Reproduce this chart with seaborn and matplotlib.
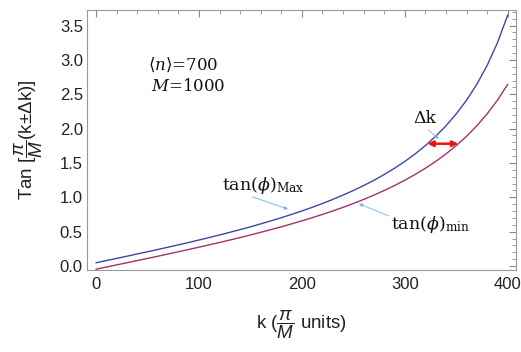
import numpy as np
import pandas as pd
import matplotlib
matplotlib.use("Agg")
import matplotlib.pyplot as plt
import seaborn as sns
from matplotlib.ticker import MultipleLocator

# ---- data ----
k_values = list(range(0, 401, 10))
tan_max = [0.047, 0.079, 0.110, 0.142, 0.175, 0.207, 0.240, 0.274, 0.308, 0.342,
           0.378, 0.414, 0.452, 0.490, 0.530, 0.570, 0.613, 0.657, 0.703, 0.751,
           0.801, 0.854, 0.910, 0.969, 1.032, 1.099, 1.171, 1.248, 1.332, 1.423,
           1.522, 1.632, 1.753, 1.889, 2.041, 2.215, 2.414, 2.646, 2.921, 3.251,
           3.655]
tan_min = [-0.047, -0.016, 0.016, 0.047, 0.079, 0.110, 0.142, 0.175, 0.207, 0.240,
           0.274, 0.308, 0.342, 0.378, 0.414, 0.452, 0.490, 0.530, 0.570, 0.613,
           0.657, 0.703, 0.751, 0.801, 0.854, 0.910, 0.969, 1.032, 1.099, 1.171,
           1.248, 1.332, 1.423, 1.522, 1.632, 1.753, 1.889, 2.041, 2.215, 2.414,
           2.646]
series_names = ["max", "min"]
x_ticks = [0, 100, 200, 300, 400]
y_ticks = [0.0, 0.5, 1.0, 1.5, 2.0, 2.5, 3.0, 3.5]
dk_arrow_k = [322, 352]
dk_arrow_y = 1.78

df = pd.DataFrame({
    "k": k_values * 2,
    "val": tan_max + tan_min,
    "series": [series_names[0]] * len(k_values) + [series_names[1]] * len(k_values),
})

sns.set_theme(style="white")
plt.rcParams["font.family"] = ["Liberation Sans", "DejaVu Sans"]
plt.rcParams["mathtext.fontset"] = "custom"
plt.rcParams["mathtext.rm"] = "Liberation Sans"
plt.rcParams["mathtext.it"] = "Liberation Sans:italic"

fig = plt.figure(figsize=(5.21, 3.52), dpi=100)
ax = fig.add_axes([0.167, 0.233, 0.823, 0.740])

sns.lineplot(data=df, x="k", y="val", hue="series",
             palette={"max": "#4444a4", "min": "#a0336a"},
             linewidth=1.0, legend=False, ax=ax)

ax.set_xlim(-8.7, 407.8)
ax.set_ylim(-0.058, 3.734)
ax.set_xticks(x_ticks)
ax.set_yticks(y_ticks)
ax.set_xticklabels([str(v) for v in x_ticks])
ax.set_yticklabels([f"{v:.1f}" for v in y_ticks])
ax.xaxis.set_minor_locator(MultipleLocator(20))
ax.yaxis.set_minor_locator(MultipleLocator(0.1))
ax.tick_params(which="both", direction="in", top=True, right=True,
               color="#888888", labelsize=12, labelcolor="#222222")
ax.tick_params(axis="x", pad=5)
ax.tick_params(axis="y", pad=3)
ax.tick_params(which="major", length=5, width=0.8)
ax.tick_params(which="minor", length=3, width=0.6)
for s in ax.spines.values():
    s.set_color("#999999")
    s.set_linewidth(0.8)

ax.set_xlabel(r"k ($\dfrac{\pi}{M}$ units)", fontsize=13.5, color="#222222")
ax.set_ylabel(r"Tan [$\dfrac{\pi}{M}$(k±Δk)]", fontsize=13.5, color="#222222")
ax.xaxis.set_label_coords(0.5, -0.145)
ax.yaxis.set_label_coords(-0.097, 0.5)

serif = ["DejaVu Serif"]
ax.text(50.5, 2.93, r"$\langle n\rangle$=700", family=serif, fontsize=12,
        math_fontfamily="dejavuserif", va="center", ha="left", color="#111111")
ax.text(53, 2.61, r"$M$=1000", family=serif, fontsize=12,
        math_fontfamily="dejavuserif", va="center", ha="left", color="#111111")

ax.text(122, 1.165, r"tan($\phi$)$_{\rm Max}$", family=serif, fontsize=12.5,
        math_fontfamily="dejavuserif", va="center", ha="left", color="#111111")
ax.text(287, 0.60, r"tan($\phi$)$_{\rm min}$", family=serif, fontsize=12.5,
        math_fontfamily="dejavuserif", va="center", ha="left", color="#111111")
ax.text(308, 2.15, r"Δk", family=serif, fontsize=12.5,
        va="center", ha="left", color="#111111")

arrow_kw = dict(arrowstyle="-|>", color="#70b0e0", lw=0.6, mutation_scale=5)
ax.annotate("", xy=(189, 0.815), xytext=(149.5, 1.019), arrowprops=arrow_kw)
ax.annotate("", xy=(253, 0.921), xytext=(287, 0.713), arrowprops=arrow_kw)
ax.annotate("", xy=(334.6, 1.824), xytext=(321, 2.009), arrowprops=arrow_kw)

ax.annotate("", xy=(dk_arrow_k[1], dk_arrow_y), xytext=(dk_arrow_k[0], dk_arrow_y),
            arrowprops=dict(arrowstyle="<|-|>", color="#ee1111", lw=1.8,
                            mutation_scale=8, shrinkA=0, shrinkB=0))

fig.savefig("out.png", dpi=100)
